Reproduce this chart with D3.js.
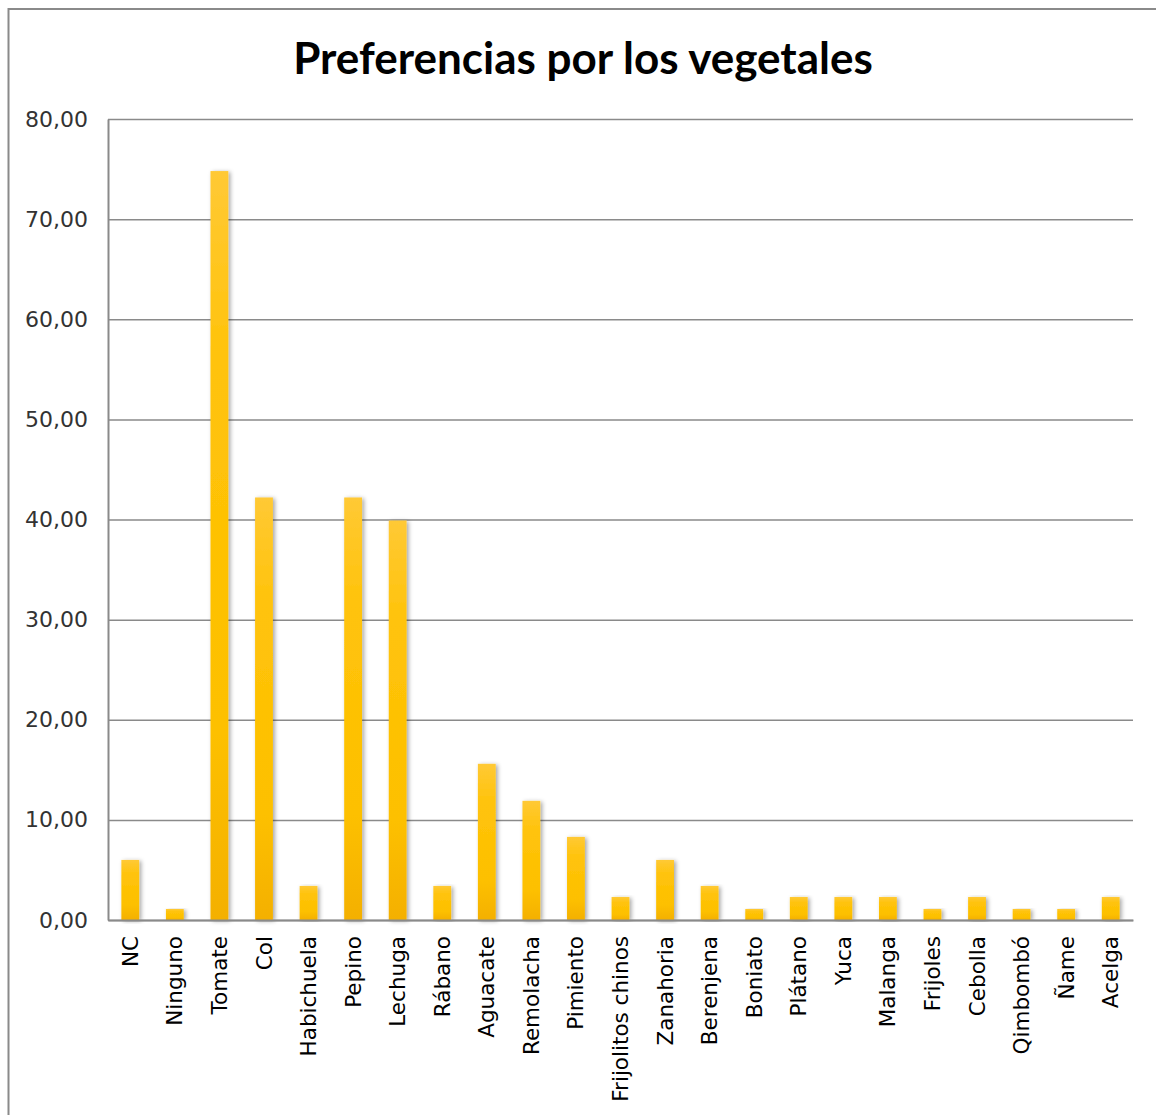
<!DOCTYPE html>
<html>
<head>
<meta charset="utf-8">
<script src="https://cdn.jsdelivr.net/npm/d3@7"></script>
<style>
  body { margin: 0; background: #fff; }
  svg { display: block; }
</style>
</head>
<body>
<div id="chart"></div>
<script>
var svgWidth = 1156;
var svgHeight = 1115;

var margin = { top: 119, right: 23, bottom: 195, left: 108 };

var width = svgWidth - margin.left - margin.right;
var height = svgHeight - margin.top - margin.bottom;

// data
var vegetables = ["NC", "Ninguno", "Tomate", "Col", "Habichuela", "Pepino", "Lechuga",
  "Rábano", "Aguacate", "Remolacha", "Pimiento", "Frijolitos chinos", "Zanahoria",
  "Berenjena", "Boniato", "Plátano", "Yuca", "Malanga", "Frijoles", "Cebolla",
  "Qimbombó", "Ñame", "Acelga"];
var percents = [6.0, 1.1, 74.8, 42.2, 3.4, 42.2, 39.9,
  3.4, 15.6, 11.9, 8.3, 2.3, 6.0,
  3.4, 1.1, 2.3, 2.3, 2.3, 1.1, 2.3,
  1.1, 1.1, 2.3];
var yTicks = [0, 10, 20, 30, 40, 50, 60, 70, 80];

var rows = vegetables.map(function(v, i) { return { name: v, value: percents[i] }; });

var svg = d3.select("#chart")
  .append("svg")
  .attr("width", svgWidth)
  .attr("height", svgHeight);

// gradient + shadow for the bars
var defs = svg.append("defs");
var grad = defs.append("linearGradient")
  .attr("id", "barFill")
  .attr("x1", 0).attr("y1", 0).attr("x2", 0).attr("y2", 1);
grad.append("stop").attr("offset", "0%").attr("stop-color", "#ffc935");
grad.append("stop").attr("offset", "25%").attr("stop-color", "#ffc30a");
grad.append("stop").attr("offset", "75%").attr("stop-color", "#fdc000");
grad.append("stop").attr("offset", "100%").attr("stop-color", "#f4b000");

var shadow = defs.append("filter")
  .attr("id", "shadow")
  .attr("x", "-50%").attr("y", "-5%").attr("width", "200%").attr("height", "110%");
shadow.append("feDropShadow")
  .attr("dx", 2).attr("dy", 1)
  .attr("stdDeviation", 2)
  .attr("flood-color", "#000")
  .attr("flood-opacity", 0.35);

// outer chart frame
svg.append("rect")
  .attr("x", 8.5)
  .attr("y", 9)
  .attr("width", svgWidth + 20)
  .attr("height", svgHeight + 20)
  .attr("fill", "none")
  .attr("stroke", "#8a8a8a")
  .attr("stroke-width", 2);

svg.append("text")
  .attr("x", 583)
  .attr("y", 74)
  .attr("text-anchor", "middle")
  .style("font-family", "Lato, 'Open Sans', sans-serif")
  .style("font-weight", "bold")
  .style("font-size", "44px")
  .attr("fill", "#000")
  .text("Preferencias por los vegetales");

var chartGroup = svg.append("g")
  .attr("transform", `translate(${margin.left}, ${margin.top})`);

var xScale = d3.scaleBand()
  .domain(vegetables)
  .range([0, width])
  .paddingInner(0.6)
  .paddingOuter(0.3);

var yScale = d3.scaleLinear()
  .domain([0, 80])
  .range([height, 0]);

var locale = d3.formatLocale({ decimal: ",", thousands: ".", grouping: [3], currency: ["", " €"] });
var fmt = locale.format(".2f");

// y axis with gridlines
var leftAxis = d3.axisLeft(yScale)
  .tickValues(yTicks)
  .tickFormat(fmt)
  .tickSizeInner(-width)
  .tickSizeOuter(0)
  .tickPadding(20);

var yAxis = chartGroup.append("g").call(leftAxis);
yAxis.select(".domain").attr("stroke", "#8a8a8a").attr("stroke-width", 2);
yAxis.selectAll(".tick line").attr("stroke", "#8a8a8a").attr("stroke-width", 1.5);
yAxis.selectAll(".tick text")
  .attr("fill", "#333")
  .style("font-family", "'DejaVu Sans', sans-serif")
  .style("font-size", "22px");

// bars
chartGroup.selectAll(".bar")
  .data(rows)
  .enter()
  .append("rect")
  .attr("class", "bar")
  .attr("x", d => xScale(d.name))
  .attr("y", d => yScale(d.value))
  .attr("width", xScale.bandwidth())
  .attr("height", d => height - yScale(d.value))
  .attr("fill", "url(#barFill)")
  .attr("filter", "url(#shadow)");

// x axis
var bottomAxis = d3.axisBottom(xScale).tickSize(0).tickPadding(0);
var xAxis = chartGroup.append("g")
  .attr("transform", `translate(0, ${height})`)
  .call(bottomAxis);
xAxis.select(".domain").attr("stroke", "#8a8a8a").attr("stroke-width", 2);
xAxis.selectAll(".tick text")
  .attr("transform", "rotate(-90)")
  .attr("x", -16)
  .attr("y", 0)
  .attr("dy", "0.35em")
  .attr("text-anchor", "end")
  .attr("fill", "#000")
  .style("font-family", "'DejaVu Sans', sans-serif")
  .style("font-size", "21.5px");
</script>
</body>
</html>
